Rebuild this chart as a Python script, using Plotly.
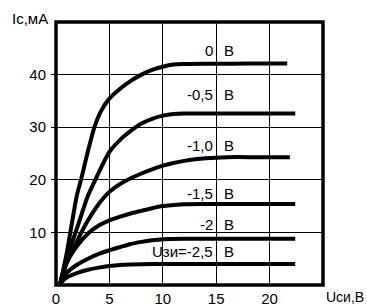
import plotly.graph_objects as go

# Drain-source voltage (V) and drain current (mA) for each gate voltage
u_0   = [0.4, 1.0, 1.94, 2.34, 3.0, 3.6, 4.2, 4.9, 6.0, 7.0, 8.0, 9.0, 10.0, 11.0, 12.0, 15.0, 18.0, 21.65]
i_0   = [0.3, 6.0, 16.9, 20.0, 25.5, 30.0, 33.0, 35.2, 37.3, 38.8, 40.0, 40.9, 41.5, 41.9, 42.0, 42.05, 42.1, 42.1]

u_05  = [0.4, 1.0, 2.0, 3.0, 3.8, 5.0, 6.0, 7.0, 8.0, 9.0, 10.0, 11.0, 12.0, 15.0, 18.0, 22.4]
i_05  = [0.3, 5.0, 11.0, 17.0, 20.5, 25.3, 27.6, 29.3, 30.7, 31.6, 32.2, 32.5, 32.6, 32.6, 32.6, 32.6]

u_10  = [0.4, 1.0, 2.0, 3.0, 4.0, 5.0, 6.0, 7.0, 8.0, 9.0, 10.0, 11.0, 12.0, 13.0, 14.0, 16.0, 19.0, 21.9]
i_10  = [0.3, 4.2, 8.5, 12.3, 15.4, 17.7, 19.2, 20.3, 21.2, 22.0, 22.7, 23.2, 23.6, 23.9, 24.1, 24.3, 24.3, 24.3]

u_15  = [0.4, 1.0, 2.0, 3.0, 4.0, 5.0, 6.0, 7.0, 8.0, 9.0, 10.0, 11.0, 12.0, 14.0, 18.0, 22.4]
i_15  = [0.3, 4.2, 7.5, 9.8, 11.3, 12.3, 13.0, 13.6, 14.1, 14.6, 15.0, 15.2, 15.35, 15.4, 15.4, 15.4]

u_20  = [0.4, 1.0, 2.0, 3.0, 4.0, 5.0, 6.0, 7.0, 8.0, 9.0, 10.0, 12.0, 16.0, 22.4]
i_20  = [0.3, 2.3, 3.9, 5.0, 5.9, 6.6, 7.2, 7.8, 8.2, 8.5, 8.7, 8.8, 8.8, 8.8]

u_25  = [0.4, 1.0, 2.0, 3.0, 4.0, 5.0, 6.0, 7.0, 9.0, 13.0, 17.0, 22.4]
i_25  = [0.3, 1.4, 2.3, 2.9, 3.3, 3.6, 3.8, 3.9, 4.0, 4.0, 4.0, 4.0]

curve_u = [u_0, u_05, u_10, u_15, u_20, u_25]
curve_i = [i_0, i_05, i_10, i_15, i_20, i_25]

# Curve labels
label_values = ["0", "-0,5", "-1,0", "-1,5", "-2", "Uзи=-2,5"]
label_unit = "В"
label_i = [44.5, 36.2, 26.6, 17.4, 11.5, 6.35]
label_u_right = 14.85
label_u_unit = 15.55

x_ticks = [0, 5, 10, 15, 20]
y_ticks = [10, 20, 30, 40]
x_title = "Uси,В"
y_title = "Iс,мА"

FONT = "Liberation Sans, Arial, sans-serif"

fig = go.Figure()
for u, i in zip(curve_u, curve_i):
    fig.add_trace(go.Scatter(x=u, y=i, mode="lines",
                             line=dict(color="black", width=4, shape="spline", smoothing=0.8),
                             showlegend=False, hoverinfo="skip"))

for txt, yy in zip(label_values, label_i):
    fig.add_annotation(x=label_u_right, y=yy, text=txt, showarrow=False,
                       xanchor="right", yanchor="middle",
                       font=dict(family=FONT, size=15, color="black"))
    fig.add_annotation(x=label_u_unit, y=yy, text=label_unit, showarrow=False,
                       xanchor="left", yanchor="middle",
                       font=dict(family=FONT, size=15, color="black"))

fig.add_annotation(xref="paper", yref="paper", x=-0.0225, y=1.015, text=y_title,
                   showarrow=False, xanchor="right", yanchor="middle",
                   font=dict(family=FONT, size=15, color="black"))
fig.add_annotation(xref="paper", yref="paper", x=1.161, y=-0.046, text=x_title,
                   showarrow=False, xanchor="right", yanchor="middle",
                   font=dict(family=FONT, size=14, color="black"))

fig.add_shape(type="rect", xref="paper", yref="paper", x0=0, y0=0, x1=1, y1=1,
              line=dict(color="black", width=3.5), layer="above")

fig.update_xaxes(range=[0, 25], tickvals=x_ticks, ticktext=[str(v) for v in x_ticks],
                 showgrid=True, gridcolor="black", gridwidth=1.2, zeroline=False,
                 showline=False, ticks="", ticklabelstandoff=3, automargin=False,
                 tickfont=dict(family=FONT, size=15, color="black"))
fig.update_yaxes(range=[0, 50], tickvals=y_ticks, ticktext=[str(v) for v in y_ticks],
                 showgrid=True, gridcolor="black", gridwidth=1.2, zeroline=False,
                 showline=False, ticks="outside", ticklen=4, tickwidth=1.2, tickcolor="black",
                 ticklabelstandoff=2, automargin=False,
                 tickfont=dict(family=FONT, size=15, color="black"))

fig.update_layout(width=367, height=306, margin=dict(l=56, r=44, t=22, b=21),
                  paper_bgcolor="white", plot_bgcolor="white")

fig.write_html("out.html",
               config={"displayModeBar": False, "staticPlot": True},
               post_script="document.body.style.margin='0';document.body.style.overflow='hidden';")
